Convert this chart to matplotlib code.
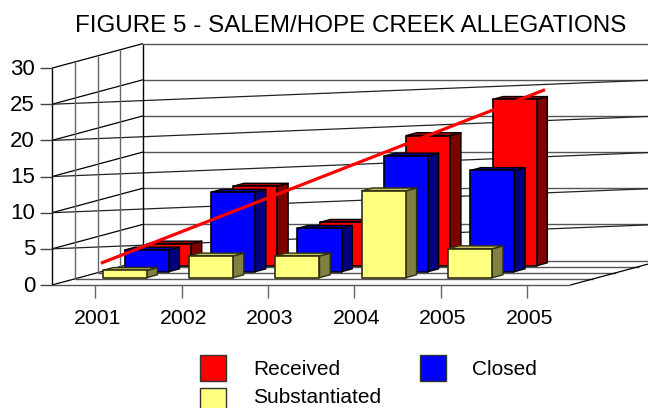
import matplotlib
matplotlib.use('Agg')
import matplotlib.pyplot as plt
from matplotlib.patches import Polygon, Rectangle

plt.rcParams['font.family'] = ['Liberation Sans', 'DejaVu Sans']

title = 'FIGURE 5 - SALEM/HOPE CREEK ALLEGATIONS'
years = ['2001', '2002', '2003', '2004', '2005', '2005']
y_ticks = [0, 5, 10, 15, 20, 25, 30]

received = [3, 11, 6, 18, 23]
closed = [3, 11, 6, 16, 14]
substantiated = [1, 3, 3, 12, 4]

trend_pos = [0.5, 5.64]
trend_val = [2.8, 26.8]

# projection of the fake 3d box, picture pixels
X0 = 52.0
Y0 = 285.0
CAT_W = 86.4
UNIT_H = 7.23
DEPTH_X = 22.75
DEPTH_Y = 6.125
N_DEPTH = 4


def proj(x, v, d):
    return (X0 + x * CAT_W + d * DEPTH_X, Y0 - v * UNIT_H - d * DEPTH_Y)


def draw_bar(ax, x, v, d, front, side, top, edge, z):
    w = 0.51
    dd = 0.47
    ax.add_patch(Polygon([proj(x + w, 0, d), proj(x + w, 0, d + dd), proj(x + w, v, d + dd), proj(x + w, v, d)],
                         fc=side, ec=edge, lw=1.0, joinstyle='round', zorder=z))
    ax.add_patch(Polygon([proj(x, v, d), proj(x + w, v, d), proj(x + w, v, d + dd), proj(x, v, d + dd)],
                         fc=top, ec=edge, lw=1.0, joinstyle='round', zorder=z))
    ax.add_patch(Polygon([proj(x, 0, d), proj(x + w, 0, d), proj(x + w, v, d), proj(x, v, d)],
                         fc=front, ec=edge, lw=1.2, joinstyle='round', zorder=z))


def line(ax, a, b, color='black', lw=0.9):
    ax.plot([a[0], b[0]], [a[1], b[1]], color=color, lw=lw, solid_capstyle='butt', zorder=2)


fig = plt.figure(figsize=(6.48, 4.08), dpi=100)
ax = fig.add_axes([0, 0, 1, 1])
ax.set_xlim(0, 648)
ax.set_ylim(408, 0)
ax.axis('off')

n_cat = len(years)

# walls
for v in y_ticks:
    line(ax, proj(0, v, 0), proj(0, v, N_DEPTH))
    if v == 0:
        continue
    line(ax, proj(0, v, N_DEPTH), proj(n_cat, v, N_DEPTH), '#555555', 1.0)
    if v != 30:
        line(ax, proj(0, v, 0), proj(n_cat, v, N_DEPTH), '#222222', 0.9)
for d in range(N_DEPTH + 1):
    line(ax, proj(0, 0, d), proj(0, 30, d), 'black' if d in (0, N_DEPTH) else '#666666', 1.0)
for d in range(N_DEPTH + 1):
    line(ax, proj(0, 0, d), proj(n_cat, 0, d), '#555555', 1.0)
line(ax, proj(n_cat, 0, 0), proj(n_cat, 0, N_DEPTH))

# ticks
for v in y_ticks:
    px, py = proj(0, v, 0)
    line(ax, (40, py), (px, py), '#444444', 1.0)
    ax.text(35, py + 1, str(v), ha='right', va='center', fontsize=16)
for i, lab in enumerate(years):
    px, py = proj(i + 0.5, 0, 0)
    line(ax, (px, py), (px, py + 13), '#666666', 1.0)
    ax.text(px + 2, 318.5, lab, ha='center', va='center', fontsize=15.3)

# bars back to front
for i, v in enumerate(received):
    draw_bar(ax, i + 0.27, v, 3.15, '#FF0000', '#800000', '#A00000', 'black', 3)
for i, v in enumerate(closed):
    draw_bar(ax, i + 0.27, v, 2.17, '#0000FF', '#000080', '#0000B0', 'black', 4)
for i, v in enumerate(substantiated):
    draw_bar(ax, i + 0.27, v, 1.2, '#FFFF80', '#808040', '#C0C060', '#303010', 5)

# trend line
ax.plot([proj(p, v, 0.25)[0] for p, v in zip(trend_pos, trend_val)],
        [proj(p, v, 0.25)[1] for p, v in zip(trend_pos, trend_val)],
        color='#FF0000', lw=2.3, solid_capstyle='butt', zorder=6)

ax.text(351, 25.5, title, ha='center', va='center', fontsize=17.4)

# legend
ax.add_patch(Rectangle((200, 355), 26, 26, fc='#FF0000', ec='#333333', lw=1.0))
ax.add_patch(Rectangle((420, 355), 26, 26, fc='#0000FF', ec='#333333', lw=1.0))
ax.add_patch(Rectangle((200, 388), 26, 26, fc='#FFFF80', ec='#333333', lw=1.0))
ax.text(253, 375, 'Received', ha='left', va='baseline', fontsize=15)
ax.text(472, 375, 'Closed', ha='left', va='baseline', fontsize=15)
ax.text(253, 403, 'Substantiated', ha='left', va='baseline', fontsize=15)

fig.savefig('out.png', dpi=100)
